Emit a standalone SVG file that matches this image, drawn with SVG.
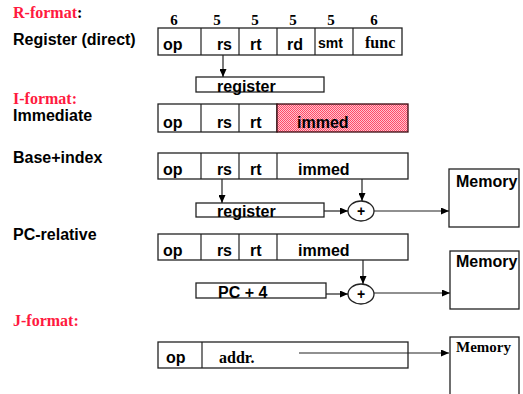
<svg xmlns="http://www.w3.org/2000/svg" width="523" height="394" viewBox="0 0 523 394">
<style>
.bx{fill:#fff;stroke:#222;stroke-width:1.3}
.ln{fill:none;stroke:#222;stroke-width:1.2}
.s{font-family:"Liberation Sans",Arial,sans-serif;font-weight:bold;font-size:16px;fill:#000}
.sm{font-family:"Liberation Sans",Arial,sans-serif;font-weight:bold;font-size:14px;fill:#000}
.t{font-family:"Liberation Serif","Times New Roman",serif;font-weight:bold;font-size:16px;fill:#000}
.n{font-family:"Liberation Serif","Times New Roman",serif;font-weight:bold;font-size:15px;fill:#000}
.red{fill:#ff1a40}
</style>
<defs>
<marker id="ah" markerUnits="userSpaceOnUse" markerWidth="8" markerHeight="7" refX="8" refY="3.5" orient="auto">
<path d="M0,0 L8,3.5 L0,7 z" fill="#000"/>
</marker>
<pattern id="chk" width="2" height="2" patternUnits="userSpaceOnUse">
<rect width="2" height="2" fill="#ffc4ce"/>
<rect width="1" height="1" fill="#ff4a68"/>
<rect x="1" y="1" width="1" height="1" fill="#ff4a68"/>
</pattern>
</defs>

<g id="labels">
<text x="13" y="18" class="t"><tspan class="red">R-format</tspan>:</text>
<text x="13" y="45" class="s">Register (direct)</text>
<text x="13" y="104" class="t red">I-format:</text>
<text x="13" y="121" class="s">Immediate</text>
<text x="13" y="163" class="s">Base+index</text>
<text x="13" y="240" class="s">PC-relative</text>
<text x="13" y="326" class="t red">J-format:</text>
</g>

<g id="bitwidths" class="n" text-anchor="middle">
<text x="174" y="25">6</text>
<text x="217" y="25">5</text>
<text x="255" y="25">5</text>
<text x="293" y="25">5</text>
<text x="331" y="25">5</text>
<text x="374" y="25">6</text>
</g>

<g id="rformat">
<rect class="bx" x="158" y="28" width="244" height="27"/>
<path class="ln" d="M201,28V55M239,28V55M277,28V55M315,28V55M353,28V55"/>
<text x="163" y="50" class="s">op</text>
<text x="232" y="50" class="s" text-anchor="end">rs</text>
<text x="250" y="50" class="s">rt</text>
<text x="287" y="50" class="s">rd</text>
<text x="318" y="48" class="sm">smt</text>
<text x="365" y="48" class="t">func</text>
</g>

<g id="register1">
<rect class="bx" x="196" y="77" width="128" height="15"/>
<text x="217" y="92" class="s">register</text>
</g>

<g id="immediate">
<rect class="bx" x="158" y="104" width="119" height="28"/>
<rect x="277" y="104" width="131" height="28" fill="url(#chk)" stroke="#3a0a10" stroke-width="1.3"/>
<path class="ln" d="M201,104V132M239,104V132"/>
<text x="163" y="128" class="s">op</text>
<text x="232" y="128" class="s" text-anchor="end">rs</text>
<text x="250" y="128" class="s">rt</text>
<text x="297" y="128" class="s">immed</text>
</g>

<g id="baseindex">
<rect class="bx" x="158" y="153" width="250" height="26"/>
<path class="ln" d="M201,153V179M239,153V179M277,153V179"/>
<text x="163" y="175" class="s">op</text>
<text x="232" y="175" class="s" text-anchor="end">rs</text>
<text x="250" y="175" class="s">rt</text>
<text x="298" y="175" class="s">immed</text>
</g>

<g id="register2">
<rect class="bx" x="196" y="203" width="128" height="14"/>
<text x="217" y="217" class="s">register</text>
</g>

<g id="adder1">
<ellipse class="bx" cx="361" cy="211" rx="13" ry="10"/>
<text x="361" y="216" class="sm" text-anchor="middle">+</text>
</g>

<g id="memory1">
<rect class="bx" x="449" y="169" width="70" height="58"/>
<text x="456" y="187" class="s">Memory</text>
</g>

<g id="pcrelative">
<rect class="bx" x="158" y="234" width="250" height="26"/>
<path class="ln" d="M201,234V260M239,234V260M277,234V260"/>
<text x="163" y="256" class="s">op</text>
<text x="232" y="256" class="s" text-anchor="end">rs</text>
<text x="250" y="256" class="s">rt</text>
<text x="298" y="256" class="s">immed</text>
</g>

<g id="pc4">
<rect class="bx" x="196" y="283" width="130" height="15"/>
<text x="218" y="298" class="s">PC + 4</text>
</g>

<g id="adder2">
<ellipse class="bx" cx="361" cy="294" rx="13" ry="10"/>
<text x="361" y="299" class="sm" text-anchor="middle">+</text>
</g>

<g id="memory2">
<rect class="bx" x="450" y="251" width="69" height="58"/>
<text x="456" y="267" class="s">Memory</text>
</g>

<g id="jformat">
<rect class="bx" x="158" y="342" width="250" height="26"/>
<path class="ln" d="M202,342V368"/>
<text x="166" y="363" class="s">op</text>
<text x="219" y="363" class="t">addr.</text>
</g>

<g id="memory3">
<rect class="bx" x="450" y="337" width="69" height="70"/>
<text x="456" y="352" class="n">Memory</text>
</g>

<g id="connectors" class="ln" marker-end="url(#ah)">
<path d="M223,55V77"/>
<path d="M222,179V203"/>
<path d="M362,179V201"/>
<path d="M324,211H348"/>
<path d="M374,211H449"/>
<path d="M363,260V284"/>
<path d="M326,294H348"/>
<path d="M374,293H450"/>
<path d="M299,353H449"/>
</g>
</svg>
